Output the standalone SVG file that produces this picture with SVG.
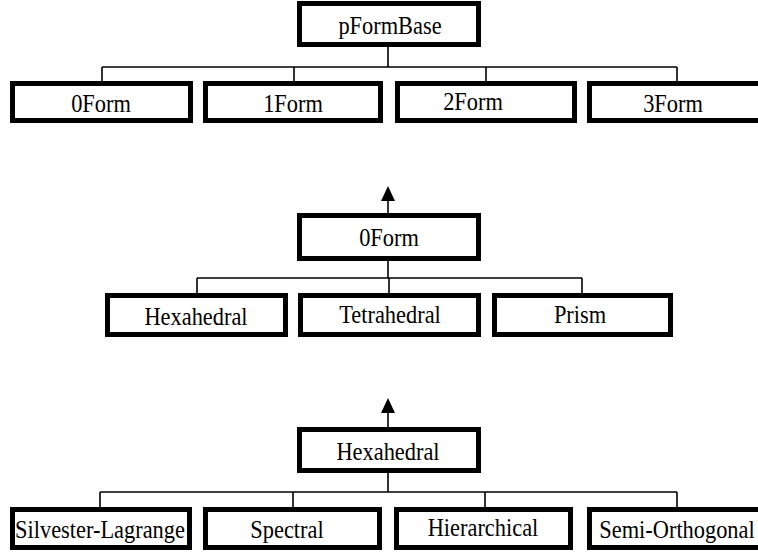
<svg xmlns="http://www.w3.org/2000/svg" width="758" height="552" viewBox="0 0 758 552">
<style>
.box{fill:#fff;stroke:#000;stroke-width:5}
.lbl{font-family:'Liberation Serif','Times New Roman',Times,serif;font-size:22.4px;fill:#000;text-anchor:middle}
.con{stroke:#000;stroke-width:1.6;fill:none}
</style>
<rect width="758" height="552" fill="#fff"/>
<g id="connectors">
<path class="con" d="M388,46 V67 M102,67 H677 M102,67 V82 M294,67 V82 M486,67 V82 M677,67 V82"/>
<path class="con" d="M388,214 V201"/>
<path d="M388,186 L395,201 L381,201 Z" fill="#000"/>
<path class="con" d="M388,260 V278 M197,278 H582 M197,278 V294 M389,278 V294 M582,278 V294"/>
<path class="con" d="M388,428 V413"/>
<path d="M388,398 L395,413 L381,413 Z" fill="#000"/>
<path class="con" d="M388,472 V492 M100,492 H677 M100,492 V508 M293,492 V508 M485,492 V508 M677,492 V508"/>
</g>
<g id="pFormBase"><rect class="box" x="299.5" y="3.5" width="179" height="41"/><text class="lbl" transform="translate(390,34) scale(1,1.12)">pFormBase</text></g>
<g id="0Form"><rect class="box" x="12.5" y="83.5" width="178" height="37"/><text class="lbl" transform="translate(101,112) scale(1,1.12)">0Form</text></g>
<g id="1Form"><rect class="box" x="205.5" y="83.5" width="175" height="37"/><text class="lbl" transform="translate(293,112) scale(1,1.12)">1Form</text></g>
<g id="2Form"><rect class="box" x="397.5" y="83.5" width="177" height="37"/><text class="lbl" transform="translate(473,110) scale(1,1.12)">2Form</text></g>
<g id="3Form"><rect class="box" x="589.5" y="83.5" width="178" height="37"/><text class="lbl" transform="translate(673,112) scale(1,1.12)">3Form</text></g>
<g id="0Form-b"><rect class="box" x="299.5" y="215.5" width="179" height="43"/><text class="lbl" transform="translate(389,246) scale(1,1.12)">0Form</text></g>
<g id="Hexahedral-a"><rect class="box" x="107.5" y="295.5" width="178" height="39"/><text class="lbl" transform="translate(196,325) scale(1,1.12)">Hexahedral</text></g>
<g id="Tetrahedral"><rect class="box" x="300.5" y="295.5" width="178" height="39"/><text class="lbl" transform="translate(390,323) scale(1,1.12)">Tetrahedral</text></g>
<g id="Prism"><rect class="box" x="494.5" y="295.5" width="176" height="39"/><text class="lbl" transform="translate(580,323) scale(1,1.12)">Prism</text></g>
<g id="Hexahedral-b"><rect class="box" x="299.5" y="429.5" width="179" height="41"/><text class="lbl" transform="translate(388,460) scale(1,1.12)">Hexahedral</text></g>
<g id="Silvester-Lagrange"><rect class="box" x="12.5" y="509.5" width="177" height="38"/><text class="lbl" transform="translate(100,538) scale(1,1.12)">Silvester-Lagrange</text></g>
<g id="Spectral"><rect class="box" x="205.5" y="509.5" width="174" height="38"/><text class="lbl" transform="translate(287,538) scale(1,1.12)">Spectral</text></g>
<g id="Hierarchical"><rect class="box" x="396.5" y="509.5" width="174" height="38"/><text class="lbl" transform="translate(483,536) scale(1,1.12)">Hierarchical</text></g>
<g id="Semi-Orthogonal"><rect class="box" x="589.5" y="509.5" width="178" height="38"/><text class="lbl" transform="translate(677,538) scale(1,1.12)">Semi-Orthogonal</text></g>
</svg>
